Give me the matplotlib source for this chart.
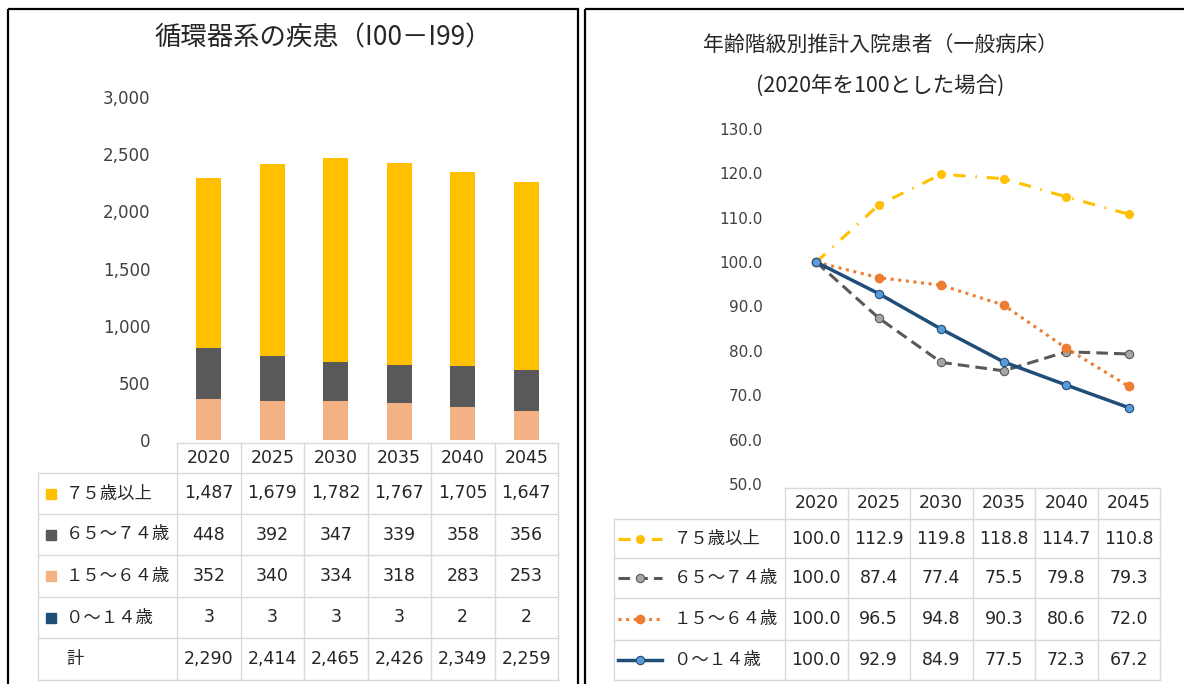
# -*- coding: utf-8 -*-
# 循環器系の疾患 / 年齢階級別推計入院患者 の再現
import matplotlib.pyplot as plt
from matplotlib.patches import Rectangle

plt.rcParams['font.family'] = ['DejaVu Sans', 'Noto Sans CJK JP']

# データ
years = ['2020', '2025', '2030', '2035', '2040', '2045']
groups = ['７５歳以上', '６５～７４歳', '１５～６４歳', '０～１４歳']

pat_75 = [1487, 1679, 1782, 1767, 1705, 1647]
pat_65 = [448, 392, 347, 339, 358, 356]
pat_15 = [352, 340, 334, 318, 283, 253]
pat_00 = [3, 3, 3, 3, 2, 2]
pat_total = [2290, 2414, 2465, 2426, 2349, 2259]

idx_75 = [100.0, 112.9, 119.8, 118.8, 114.7, 110.8]
idx_65 = [100.0, 87.4, 77.4, 75.5, 79.8, 79.3]
idx_15 = [100.0, 96.5, 94.8, 90.3, 80.6, 72.0]
idx_00 = [100.0, 92.9, 84.9, 77.5, 72.3, 67.2]

left_title = '循環器系の疾患（I00－I99）'
right_title1 = '年齢階級別推計入院患者（一般病床）'
right_title2 = '(2020年を100とした場合)'

# 色
c75, c65, c15, c00 = '#FFC000', '#595959', '#F4B183', '#1F4E79'
grid_c = '#D9D9D9'
txt_c = '#262626'

W, H = 1184, 684
fig = plt.figure(figsize=(W / 100, H / 100), dpi=100)


def box(x0, y0, x1, y1):
    # ピクセル座標 -> figure座標
    return [x0 / W, 1 - y1 / H, (x1 - x0) / W, (y1 - y0) / H]


# 全体の重ね書き用 (ピクセル座標)
ov = fig.add_axes([0, 0, 1, 1])
ov.set_xlim(0, W)
ov.set_ylim(H, 0)
ov.axis('off')

# 枠
ov.add_patch(Rectangle((8, 9), 570, 700, fill=False, ec='black', lw=1.6))
ov.add_patch(Rectangle((585, 9), 620, 700, fill=False, ec='black', lw=1.6))

x = list(range(len(years)))
tab_fs = 12.5

# ---------------- 左: 積み上げ棒グラフ ----------------
L0, L1 = 177, 558
ax1 = fig.add_axes(box(L0, 97, L1, 440))
series = [(pat_00, c00), (pat_15, c15), (pat_65, c65), (pat_75, c75)]
bottom = [0] * len(years)
for vals, col in series:
    ax1.bar(x, vals, width=0.39, bottom=bottom, color=col, zorder=2)
    bottom = [b + v for b, v in zip(bottom, vals)]
ax1.set_ylim(0, 3000)
ax1.set_xlim(-0.5, len(years) - 0.5)
ax1.set_yticks(range(0, 3001, 500))
ax1.set_yticklabels([f'{v:,}' for v in range(0, 3001, 500)])
ax1.set_xticks([])
ax1.tick_params(axis='y', length=0, pad=19, labelsize=12, labelcolor='#404040')
for s in ax1.spines.values():
    s.set_visible(False)
ax1.patch.set_alpha(0)

fig.text(323 / W, 1 - 38 / H, left_title, ha='center', va='center',
         fontsize=19, color=txt_c, family=['Noto Sans CJK JP'])

# 左の表
cw = (L1 - L0) / len(years)
rows_l = [443, 473, 514, 555, 597, 638, 680]
ov.plot([L0, L1], [rows_l[0]] * 2, color=grid_c, lw=1)
for r in rows_l[1:]:
    ov.plot([38, L1], [r, r], color=grid_c, lw=1)
ov.plot([38, 38], [rows_l[1], rows_l[-1]], color=grid_c, lw=1)
for k in range(len(years) + 1):
    ov.plot([L0 + k * cw] * 2, [rows_l[0], rows_l[-1]], color=grid_c, lw=1)

tab_l = [pat_75, pat_65, pat_15, pat_00, pat_total]
names_l = groups + ['計']
cols_l = [c75, c65, c15, c00, None]
for i, yr in enumerate(years):
    ov.text(L0 + (i + 0.5) * cw, (rows_l[0] + rows_l[1]) / 2, yr,
            ha='center', va='center', fontsize=tab_fs, color=txt_c)
for j, (vals, name, col) in enumerate(zip(tab_l, names_l, cols_l)):
    yc = (rows_l[j + 1] + rows_l[j + 2]) / 2
    if col:
        ov.add_patch(Rectangle((46, yc - 5), 10, 10, color=col))
    ov.text(66, yc, name, ha='left', va='center', fontsize=tab_fs, color=txt_c)
    for i, v in enumerate(vals):
        ov.text(L0 + (i + 0.5) * cw, yc, f'{v:,}', ha='center', va='center',
                fontsize=tab_fs, color=txt_c)

# ---------------- 右: 折れ線グラフ ----------------
R0, R1 = 785, 1160
ax2 = fig.add_axes(box(R0, 129, R1, 484))
styles = [
    (idx_75, dict(color=c75, lw=2.2, dashes=(4, 3.2, 0.5, 3.2), marker='o',
                  ms=5.5, mfc=c75, mec=c75)),
    (idx_65, dict(color=c65, lw=2.2, dashes=(3.8, 2), marker='o', ms=6,
                  mfc='#A5A5A5', mec=c65, mew=0.8)),
    (idx_15, dict(color='#ED7D31', lw=2.2, dashes=(1, 1.5), marker='o', ms=6,
                  mfc='#ED7D31', mec='#ED7D31')),
    (idx_00, dict(color=c00, lw=2.5, ls='-', marker='o', ms=6,
                  mfc='#5B9BD5', mec=c00, mew=0.8)),
]
for vals, kw in styles:
    ax2.plot(x, vals, zorder=3, **kw)
ax2.set_ylim(50, 130)
ax2.set_xlim(-0.5, len(years) - 0.5)
ax2.set_yticks(range(50, 131, 10))
ax2.set_yticklabels([f'{v:.1f}' for v in range(50, 131, 10)])
ax2.set_xticks([])
ax2.tick_params(axis='y', length=0, pad=16, labelsize=11, labelcolor='#404040')
for s in ax2.spines.values():
    s.set_visible(False)
ax2.patch.set_alpha(0)

fig.text(880 / W, 1 - 45 / H, right_title1, ha='center', va='center',
         fontsize=15, color=txt_c, family=['Noto Sans CJK JP'])
fig.text(880 / W, 1 - 86 / H, right_title2, ha='center', va='center',
         fontsize=15.5, color=txt_c, family=['Noto Sans CJK JP'])

# 右の表
cw2 = (R1 - R0) / len(years)
rows_r = [488, 519, 558, 598, 640, 680]
ov.plot([R0, R1], [rows_r[0]] * 2, color=grid_c, lw=1)
for r in rows_r[1:]:
    ov.plot([614, R1], [r, r], color=grid_c, lw=1)
ov.plot([614, 614], [rows_r[1], rows_r[-1]], color=grid_c, lw=1)
for k in range(len(years) + 1):
    ov.plot([R0 + k * cw2] * 2, [rows_r[0], rows_r[-1]], color=grid_c, lw=1)

for i, yr in enumerate(years):
    ov.text(R0 + (i + 0.5) * cw2, (rows_r[0] + rows_r[1]) / 2, yr,
            ha='center', va='center', fontsize=tab_fs, color=txt_c)
for j, ((vals, kw), name) in enumerate(zip(styles, groups)):
    yc = (rows_r[j + 1] + rows_r[j + 2]) / 2
    ov.plot([618, 640, 662], [yc] * 3, markevery=[1], **kw)
    ov.text(674, yc, name, ha='left', va='center', fontsize=tab_fs, color=txt_c)
    for i, v in enumerate(vals):
        ov.text(R0 + (i + 0.5) * cw2, yc, f'{v:.1f}', ha='center', va='center',
                fontsize=tab_fs, color=txt_c)

fig.savefig('out.png', dpi=100)
